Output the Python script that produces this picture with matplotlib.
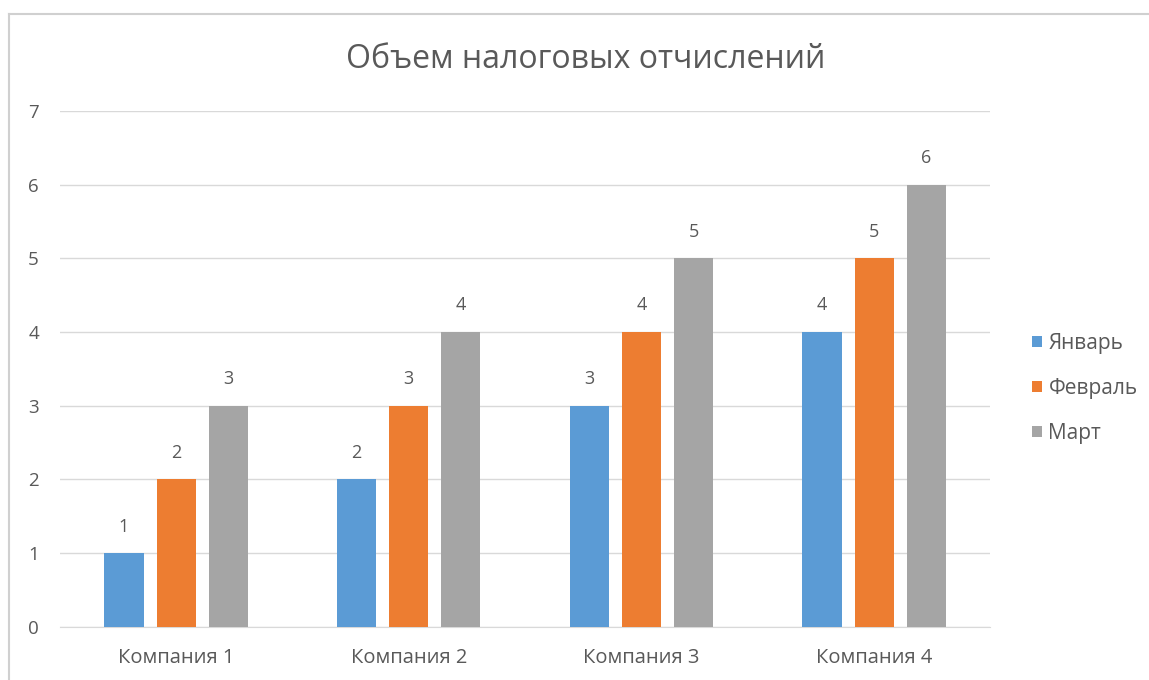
import numpy as np
import matplotlib.pyplot as plt
from matplotlib.lines import Line2D

companies = ["Компания 1", "Компания 2", "Компания 3", "Компания 4"]
months = ["Январь", "Февраль", "Март"]
jan = [1, 2, 3, 4]
feb = [2, 3, 4, 5]
mar = [3, 4, 5, 6]
colors = ["#5B9BD5", "#ED7D31", "#A5A5A5"]
txt = "#595959"

plt.rcParams['font.family'] = ['Open Sans', 'DejaVu Sans']

fig = plt.figure(figsize=(11.49, 6.80), dpi=100)
ax = fig.add_axes([0.052, 0.078, 0.810, 0.759])

x = np.arange(len(companies))
w = 0.168
step = 0.224
for i, (vals, lab) in enumerate(zip([jan, feb, mar], months)):
    pos = x + (i - 1) * step
    bars = ax.bar(pos, vals, width=w, color=colors[i], label=lab, zorder=3)
    for b, v in zip(bars, vals):
        ax.text(b.get_x() + b.get_width() / 2, v + 0.36, str(v),
                ha="center", va="center", fontsize=13, color=txt)

ax.set_xlim(-0.5, 3.5)
ax.set_ylim(0, 7)
ax.set_yticks(range(8))
ax.set_xticks(x)
ax.set_xticklabels(companies)
ax.grid(axis="y", color="#D9D9D9", linewidth=1, zorder=0)
for s in ["top", "right", "left"]:
    ax.spines[s].set_visible(False)
ax.spines["bottom"].set_color("#D9D9D9")
ax.tick_params(axis="both", length=0, labelsize=13.5, colors=txt)
ax.tick_params(axis="x", labelsize=14.5, pad=15)
ax.tick_params(axis="y", pad=15)

fig.suptitle("Объем налоговых отчислений", x=0.51, y=0.937, fontsize=23, color=txt)

leg = ax.legend(loc="center left", bbox_to_anchor=(1.025, 0.462), frameon=False,
                fontsize=15, labelcolor=txt, handlelength=0.47, handleheight=0.47,
                handletextpad=0.3, labelspacing=1.15)

# chart border (top and left edges visible)
fig.add_artist(Line2D([0.0075, 1.0], [0.98, 0.98], transform=fig.transFigure,
                      color="#D0D0D0", linewidth=1.5))
fig.add_artist(Line2D([0.0075, 0.0075], [0.0, 0.98], transform=fig.transFigure,
                      color="#D0D0D0", linewidth=1.5))

fig.savefig("out.png", dpi=100)
